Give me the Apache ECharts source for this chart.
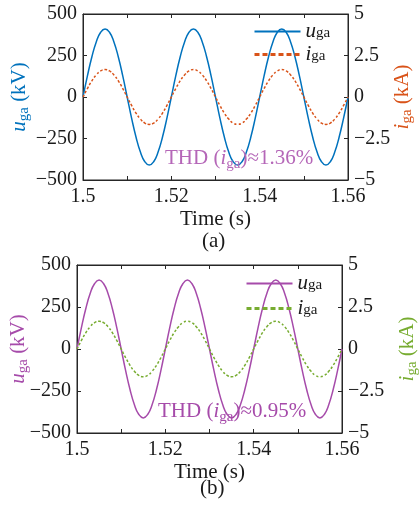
<!DOCTYPE html>
<html><head><meta charset="utf-8">
<script src="https://cdn.jsdelivr.net/npm/echarts@6/dist/echarts.min.js"></script>
<style>html,body{margin:0;padding:0;background:#fff}#c{width:420px;height:508px}</style>
</head><body><div id="c"></div>
<script>
// time samples (s)
var time = [1.500,1.501,1.502,1.503,1.504,1.505,1.506,1.507,1.508,1.509,
1.510,1.511,1.512,1.513,1.514,1.515,1.516,1.517,1.518,1.519,
1.520,1.521,1.522,1.523,1.524,1.525,1.526,1.527,1.528,1.529,
1.530,1.531,1.532,1.533,1.534,1.535,1.536,1.537,1.538,1.539,
1.540,1.541,1.542,1.543,1.544,1.545,1.546,1.547,1.548,1.549,
1.550,1.551,1.552,1.553,1.554,1.555,1.556,1.557,1.558,1.559,1.560];
// (a) grid voltage (kV) and current (kA)
var uA = [0,127,241,332,390,410,390,332,241,127,0,-127,-241,-332,-390,-410,-390,-332,-241,-127,
0,127,241,332,390,410,390,332,241,127,0,-127,-241,-332,-390,-410,-390,-332,-241,-127,
0,127,241,332,390,410,390,332,241,127,0,-127,-241,-332,-390,-410,-390,-332,-241,-127,0];
var iA = [0,0.51,0.97,1.33,1.57,1.65,1.57,1.33,0.97,0.51,0,-0.51,-0.97,-1.33,-1.57,-1.65,-1.57,-1.33,-0.97,-0.51,
0,0.51,0.97,1.33,1.57,1.65,1.57,1.33,0.97,0.51,0,-0.51,-0.97,-1.33,-1.57,-1.65,-1.57,-1.33,-0.97,-0.51,
0,0.51,0.97,1.33,1.57,1.65,1.57,1.33,0.97,0.51,0,-0.51,-0.97,-1.33,-1.57,-1.65,-1.57,-1.33,-0.97,-0.51,0];
// (b)
var uB = [0,127,241,332,390,410,390,332,241,127,0,-127,-241,-332,-390,-410,-390,-332,-241,-127,
0,127,241,332,390,410,390,332,241,127,0,-127,-241,-332,-390,-410,-390,-332,-241,-127,
0,127,241,332,390,410,390,332,241,127,0,-127,-241,-332,-390,-410,-390,-332,-241,-127,0];
var iB = [0,0.51,0.97,1.33,1.57,1.65,1.57,1.33,0.97,0.51,0,-0.51,-0.97,-1.33,-1.57,-1.65,-1.57,-1.33,-0.97,-0.51,
0,0.51,0.97,1.33,1.57,1.65,1.57,1.33,0.97,0.51,0,-0.51,-0.97,-1.33,-1.57,-1.65,-1.57,-1.33,-0.97,-0.51,
0,0.51,0.97,1.33,1.57,1.65,1.57,1.33,0.97,0.51,0,-0.51,-0.97,-1.33,-1.57,-1.65,-1.57,-1.33,-0.97,-0.51,0];
var xTickLabels = ['1.5','1.52','1.54','1.56'];
var thdA = '1.36%', thdB = '0.95%';

var FF = 'Liberation Serif';
var AX = '#262626';
var TX = '#1a1a1a';
var colors = {a:['#0072BD','#D95319','#B567B8'], b:['#A64BAA','#77AC30','#A64BAA']};

function pair(a){ return a.map(function(v,k){ return [time[k], v]; }); }
function minus(v){ return String(v).replace('-', '\u2212'); }
function xFmt(v){ var s = parseFloat(v.toFixed(2)).toString(); return xTickLabels.indexOf(s) >= 0 ? s : ''; }
function richName(c){
  return {
    it:{fontFamily:FF,fontStyle:'italic',fontSize:21,color:c,lineHeight:26},
    sub:{fontFamily:FF,fontSize:15,color:c,lineHeight:14,verticalAlign:'bottom'},
    n:{fontFamily:FF,fontSize:21,color:c,lineHeight:26}
  };
}
var gridA = {left:83, top:14, width:265, height:166, show:true, borderColor:AX, borderWidth:1, containLabel:false, outerBoundsMode:'none'};
var gridB = {left:77, top:265, width:265, height:168, show:true, borderColor:AX, borderWidth:1, containLabel:false, outerBoundsMode:'none'};

function xAxes(g){
  return [{
    type:'value', gridIndex:g, min:1.5, max:1.56, interval:0.01,
    name:'Time (s)', nameLocation:'middle', nameGap:29,
    nameTextStyle:{fontFamily:FF,fontSize:21,color:TX},
    axisLine:{onZero:false,lineStyle:{color:AX}},
    axisTick:{inside:true,length:4,lineStyle:{color:AX}},
    axisLabel:{fontFamily:FF,fontSize:20,color:TX,margin:7,formatter:xFmt,showMinLabel:true,showMaxLabel:true},
    splitLine:{show:false}
  },{
    type:'value', gridIndex:g, position:'top', min:1.5, max:1.56, interval:0.01,
    axisLine:{onZero:false,lineStyle:{color:AX}},
    axisTick:{inside:true,length:4,lineStyle:{color:AX}},
    axisLabel:{show:false}, splitLine:{show:false}
  }];
}
function yAxes(g, cl, cr, gapL, gapR){
  return [{
    type:'value', gridIndex:g, min:-500, max:500, interval:250, position:'left',
    name:'{it|u}{sub|ga}{n| (kV)}', nameLocation:'middle', nameRotate:90, nameGap:gapL, nameMoveOverlap:false,
    nameTextStyle:{rich:richName(cl)},
    axisLine:{onZero:false,lineStyle:{color:AX}},
    axisTick:{inside:true,length:4,lineStyle:{color:AX}},
    axisLabel:{fontFamily:FF,fontSize:20,color:TX,margin:6,formatter:minus},
    splitLine:{show:false}
  },{
    type:'value', gridIndex:g, min:-5, max:5, interval:2.5, position:'right',
    name:'{it|i}{sub|ga}{n| (kA)}', nameLocation:'middle', nameRotate:90, nameGap:gapR, nameMoveOverlap:false,
    nameTextStyle:{rich:richName(cr)},
    axisLine:{onZero:false,lineStyle:{color:AX}},
    axisTick:{inside:true,length:4,lineStyle:{color:AX}},
    axisLabel:{fontFamily:FF,fontSize:20,color:TX,margin:6,formatter:minus},
    splitLine:{show:false}
  }];
}
var legRich = {
  it:{fontFamily:FF,fontStyle:'italic',fontSize:21,color:TX,lineHeight:18},
  sub:{fontFamily:FF,fontSize:15,color:TX,lineHeight:6,verticalAlign:'bottom'}
};
function legFmt(name){ return name.charAt(0)==='u' ? '{it|u}{sub|ga}' : '{it|i}{sub|ga}'; }
function legend(names, left, top, gap){
  return {
    data:[{name:names[0]},{name:names[1],lineStyle:{width:3,type:[5,3]}}],
    orient:'vertical', left:left, top:top, itemWidth:46, itemHeight:14, itemGap:gap,
    itemStyle:{opacity:0},
    formatter:legFmt, textStyle:{rich:legRich}, selectedMode:false, padding:0
  };
}

var chart = echarts.init(document.getElementById('c'), null, {renderer:'canvas'});
chart.setOption({
  animation:false,
  backgroundColor:'#fff',
  grid:[gridA, gridB],
  xAxis:[].concat(xAxes(0), xAxes(1)),
  yAxis:[].concat(yAxes(0, colors.a[0], colors.a[1], 51, 41), yAxes(1, colors.b[0], colors.b[1], 46, 52)),
  legend:[legend(['u_a','i_a'], 253, 21, 2), legend(['u_b','i_b'], 245, 273, 4)],
  series:[
    {name:'u_a', type:'line', xAxisIndex:0, yAxisIndex:0, data:pair(uA), symbol:'none', showSymbol:false, smooth:true,
     lineStyle:{color:colors.a[0],width:1.5}, itemStyle:{color:colors.a[0]}},
    {name:'i_a', type:'line', xAxisIndex:0, yAxisIndex:1, data:pair(iA), symbol:'none', showSymbol:false, smooth:true,
     lineStyle:{color:colors.a[1],width:1.5,type:[2.5,2]}, itemStyle:{color:colors.a[1]}},
    {name:'u_b', type:'line', xAxisIndex:2, yAxisIndex:2, data:pair(uB), symbol:'none', showSymbol:false, smooth:true,
     lineStyle:{color:colors.b[0],width:1.5}, itemStyle:{color:colors.b[0]}},
    {name:'i_b', type:'line', xAxisIndex:2, yAxisIndex:3, data:pair(iB), symbol:'none', showSymbol:false, smooth:true,
     lineStyle:{color:colors.b[1],width:1.5,type:[2.5,2]}, itemStyle:{color:colors.b[1]}}
  ],
  graphic:[
    {type:'text', left:165, top:148, z:10, style:{
      text:'THD ({it|i}{sub|ga})\u2248'+thdA, fill:colors.a[2], font:'21px '+FF,
      rich:{it:{fontFamily:FF,fontStyle:'italic',fontSize:21,fill:colors.a[2],lineHeight:26},
            sub:{fontFamily:FF,fontSize:15,fill:colors.a[2],lineHeight:14,verticalAlign:'bottom'}}}},
    {type:'text', left:158, top:401, z:10, style:{
      text:'THD ({it|i}{sub|ga})\u2248'+thdB, fill:colors.b[2], font:'21px '+FF,
      rich:{it:{fontFamily:FF,fontStyle:'italic',fontSize:21,fill:colors.b[2],lineHeight:26},
            sub:{fontFamily:FF,fontSize:15,fill:colors.b[2],lineHeight:14,verticalAlign:'bottom'}}}},
    {type:'text', left:202, top:231, style:{text:'(a)', fill:TX, font:'21px '+FF}},
    {type:'text', left:200, top:478, style:{text:'(b)', fill:TX, font:'21px '+FF}}
  ]
});
</script></body></html>
